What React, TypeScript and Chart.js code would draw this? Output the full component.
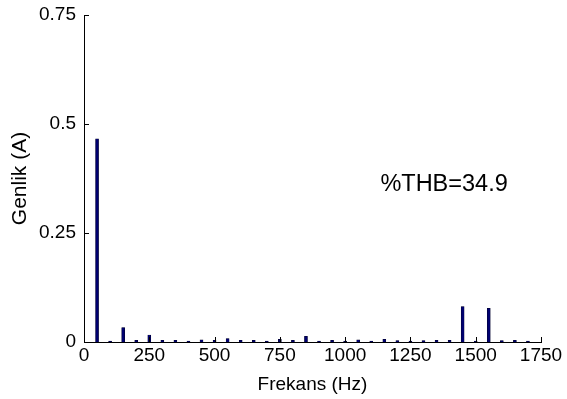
import React, { useEffect, useRef } from "react";
import { Chart, registerables } from "chart.js";

Chart.register(...registerables);

const frequencies = [50, 100, 150, 200, 250, 300, 350, 400, 450, 500, 550, 600, 650, 700, 750, 800, 850, 900, 950, 1000, 1050, 1100, 1150, 1200, 1250, 1300, 1350, 1400, 1450, 1500, 1550, 1600, 1650, 1700];
const amplitudes = [0.466, 0.002, 0.033, 0.004, 0.016, 0.004, 0.004, 0.002, 0.005, 0.004, 0.008, 0.004, 0.004, 0.002, 0.006, 0.004, 0.013, 0.002, 0.004, 0.002, 0.005, 0.002, 0.006, 0.003, 0.002, 0.003, 0.004, 0.004, 0.081, 0.002, 0.077, 0.003, 0.004, 0.002];
const xTicks = [0, 250, 500, 750, 1000, 1250, 1500, 1750];
const yTicks = [0, 0.25, 0.5, 0.75];
const thdLabel = "%THB=34.9";
const FONT = "'Liberation Sans', Arial, sans-serif";

export default function App() {
  const ref = useRef<HTMLCanvasElement | null>(null);
  useEffect(() => {
    document.body.style.margin = "0";
    const canvas = ref.current;
    if (!canvas) return;
    const inwardTicks = {
      id: "inwardTicks",
      afterDraw(chart: any) {
        const { ctx, scales, chartArea } = chart;
        ctx.save();
        ctx.strokeStyle = "#000";
        ctx.lineWidth = 1;
        ctx.beginPath();
        for (const v of xTicks) {
          const px = Math.round(scales.x.getPixelForValue(v)) + 0.5;
          ctx.moveTo(px, chartArea.bottom);
          ctx.lineTo(px, chartArea.bottom - 5);
        }
        for (const v of yTicks) {
          const py = Math.round(scales.y.getPixelForValue(v)) + 0.5;
          ctx.moveTo(chartArea.left, py);
          ctx.lineTo(chartArea.left + 5, py);
        }
        ctx.stroke();
        ctx.fillStyle = "#000";
        ctx.font = `23.5px ${FONT}`;
        ctx.textAlign = "left";
        ctx.textBaseline = "alphabetic";
        ctx.fillText(thdLabel, scales.x.getPixelForValue(1135), scales.y.getPixelForValue(0.347));
        ctx.restore();
      },
    };
    const chart = new Chart(canvas, {
      type: "bar",
      data: {
        datasets: [
          {
            data: frequencies.map((f, i) => ({ x: f, y: amplitudes[i] })),
            backgroundColor: "#000070",
            borderColor: "#000022",
            borderWidth: 0.5,
            barThickness: 3,
          },
        ],
      },
      options: {
        responsive: false,
        animation: false,
        layout: { padding: { left: 0, right: 26, top: 15, bottom: 0 } },
        plugins: { legend: { display: false }, tooltip: { enabled: false } },
        scales: {
          x: {
            type: "linear",
            offset: false,
            min: 0,
            max: 1750,
            afterBuildTicks: (s: any) => {
              s.ticks = xTicks.map((v) => ({ value: v }));
            },
            afterFit: (s: any) => {
              s.height = 57;
              s.paddingLeft = 0;
              s.paddingRight = 0;
            },
            ticks: {
              color: "#000",
              font: { family: FONT, size: 19 },
              padding: 2,
              maxRotation: 0,
              autoSkip: false,
              callback: (v: any) => String(v),
            },
            grid: { display: false, drawTicks: false },
            border: { display: true, color: "#000", width: 1 },
            title: {
              display: true,
              text: "Frekans (Hz)",
              color: "#000",
              font: { family: FONT, size: 19 },
              padding: { top: 0, bottom: 3 },
            },
          },
          y: {
            type: "linear",
            min: 0,
            max: 0.75,
            afterBuildTicks: (s: any) => {
              s.ticks = yTicks.map((v) => ({ value: v }));
            },
            afterFit: (s: any) => {
              s.width = 84;
              s.paddingTop = 0;
              s.paddingBottom = 0;
            },
            ticks: {
              color: "#000",
              font: { family: FONT, size: 19 },
              padding: 8,
              callback: (v: any) => String(v),
            },
            grid: { display: false, drawTicks: false },
            border: { display: true, color: "#000", width: 1 },
            title: {
              display: true,
              text: "Genlik (A)",
              color: "#000",
              font: { family: FONT, size: 21 },
              padding: { top: 8, bottom: 0 },
            },
          },
        },
      },
      plugins: [inwardTicks],
    });
    return () => chart.destroy();
  }, []);
  return <canvas ref={ref} width={567} height={399} style={{ display: "block" }} />;
}
